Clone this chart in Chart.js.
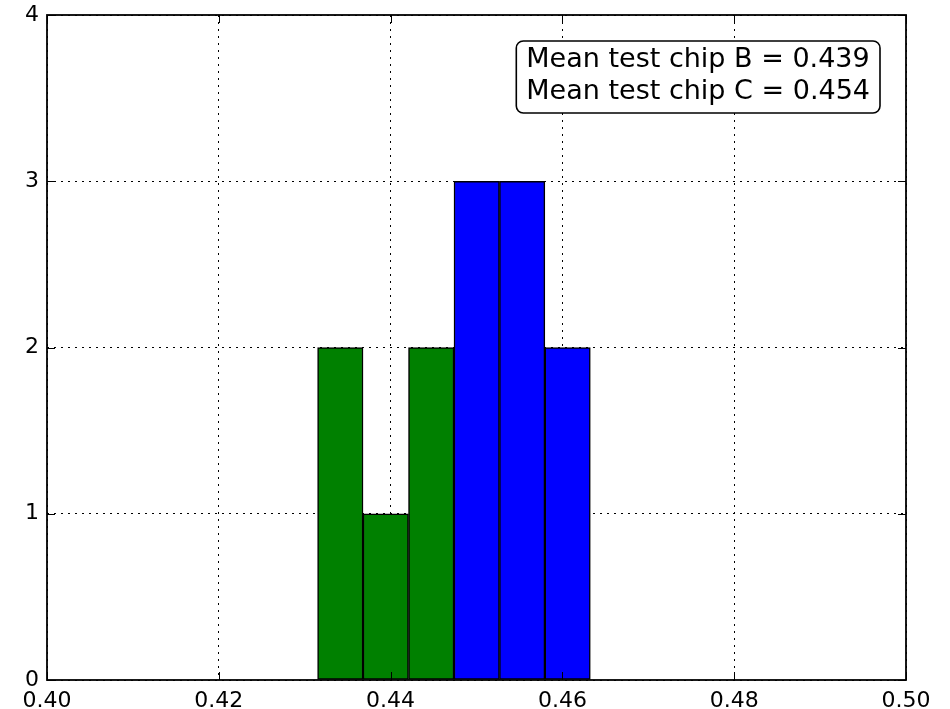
<!DOCTYPE html>
<html>
<head>
<meta charset="utf-8">
<script src="https://cdn.jsdelivr.net/npm/chart.js@4/dist/chart.umd.min.js"></script>
<style>
  html, body { margin: 0; padding: 0; background: #fff; }
  #wrap { width: 950px; height: 709px; }
</style>
</head>
<body>
<div id="wrap"><canvas id="c" width="950" height="709"></canvas></div>
<script>
// ---- Data ----
const chipBEdges = [0.4315, 0.43679, 0.44208, 0.44738];
const chipBCounts = [2, 1, 2];
const chipCEdges = [0.44738, 0.45267, 0.45796, 0.46325];
const chipCCounts = [3, 3, 2];
const xTicks = [0.40, 0.42, 0.44, 0.46, 0.48, 0.50];
const yTicks = [0, 1, 2, 3, 4];
const annotationLines = ["Mean test chip B = 0.439", "Mean test chip C = 0.454"];

function toPoints(edges, counts) {
  return counts.map((c, i) => ({ x: (edges[i] + edges[i + 1]) / 2, y: c }));
}

const FONT = "'DejaVu Sans', sans-serif";

const framePlugin = {
  id: 'frame',
  afterDatasetsDraw(chart) {
    const { ctx, chartArea: a, scales } = chart;
    ctx.save();
    // inward ticks
    ctx.strokeStyle = '#000';
    ctx.lineWidth = 1;
    const L = 8;
    xTicks.forEach(v => {
      const px = Math.round(scales.x.getPixelForValue(v)) + 0.5;
      ctx.beginPath();
      ctx.moveTo(px, a.bottom); ctx.lineTo(px, a.bottom - L);
      ctx.moveTo(px, a.top); ctx.lineTo(px, a.top + L);
      ctx.stroke();
    });
    yTicks.forEach(v => {
      const py = Math.round(scales.y.getPixelForValue(v)) + 0.5;
      ctx.beginPath();
      ctx.moveTo(a.left, py); ctx.lineTo(a.left + L, py);
      ctx.moveTo(a.right, py); ctx.lineTo(a.right - L, py);
      ctx.stroke();
    });
    // frame
    ctx.lineWidth = 1.8;
    ctx.strokeRect(a.left, a.top, a.right - a.left, a.bottom - a.top);

    // annotation box
    ctx.font = '27px ' + FONT;
    const w = Math.max(...annotationLines.map(s => ctx.measureText(s).width));
    const padX = 10, lineH = 32;
    const right = a.right - 26, top = a.top + 26;
    const bw = w + 2 * padX, bh = annotationLines.length * lineH + 8;
    const left = right - bw;
    ctx.beginPath();
    ctx.roundRect(left, top, bw, bh, 7);
    ctx.fillStyle = '#fff';
    ctx.fill();
    ctx.lineWidth = 1.6;
    ctx.strokeStyle = '#000';
    ctx.stroke();
    ctx.fillStyle = '#000';
    ctx.textBaseline = 'alphabetic';
    annotationLines.forEach((s, i) => {
      ctx.fillText(s, left + padX, top + 26 + i * lineH);
    });
    ctx.restore();
  }
};

new Chart(document.getElementById('c'), {
  type: 'bar',
  data: {
    datasets: [
      {
        label: 'Chip B',
        data: toPoints(chipBEdges, chipBCounts),
        backgroundColor: '#008000',
        borderColor: '#000',
        borderWidth: 1.5,
        borderSkipped: false,
        grouped: false,
        barPercentage: 1,
        categoryPercentage: 1
      },
      {
        label: 'Chip C',
        data: toPoints(chipCEdges, chipCCounts),
        backgroundColor: '#0000ff',
        borderColor: '#000',
        borderWidth: 1.5,
        borderSkipped: false,
        grouped: false,
        barPercentage: 1,
        categoryPercentage: 1
      }
    ]
  },
  options: {
    responsive: false,
    animation: false,
    devicePixelRatio: 1,
    layout: { padding: { left: 0, right: 44, top: 15, bottom: 0 } },
    plugins: { legend: { display: false }, tooltip: { enabled: false } },
    scales: {
      x: {
        type: 'linear',
        min: 0.40, max: 0.50,
        offset: false,
        afterBuildTicks: s => { s.ticks = xTicks.map(v => ({ value: v })); },
        ticks: {
          color: '#000',
          font: { family: FONT, size: 22 },
          padding: 8,
          maxRotation: 0,
          callback: v => Number(v).toFixed(2)
        },
        grid: {
          color: '#000', lineWidth: 1, offset: false,
          tickLength: 0, drawTicks: false
        },
        border: { display: false, dash: [2, 5] },
        afterFit: s => { s.height = 29; }
      },
      y: {
        min: 0, max: 4,
        afterBuildTicks: s => { s.ticks = yTicks.map(v => ({ value: v })); },
        ticks: {
          color: '#000',
          font: { family: FONT, size: 22 },
          padding: 8
        },
        grid: {
          color: '#000', lineWidth: 1, drawTicks: false, tickLength: 0
        },
        border: { display: false, dash: [2, 5] },
        afterFit: s => { s.width = 47; s.paddingTop = 0; s.paddingBottom = 0; }
      }
    }
  },
  plugins: [framePlugin]
});
</script>
</body>
</html>
